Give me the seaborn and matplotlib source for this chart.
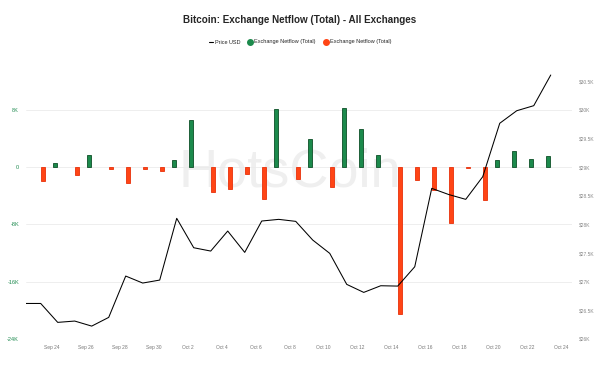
import seaborn as sns
import matplotlib.pyplot as plt
import matplotlib.dates as mdates
from matplotlib.lines import Line2D
import pandas as pd
import numpy as np

# daily values, Sep 23 .. Oct 23 2023 (stamped 08:30 like the source)
days = pd.date_range("2023-09-23 08:30", periods=31, freq="D")
price_before = 26620  # Sep 22, sits just outside the left edge
price = [26620, 26290, 26313, 26225, 26377, 27098, 26976, 27028, 28105, 27592,
         27534, 27883, 27511, 28058, 28087, 28052, 27726, 27494, 26953, 26813,
         26929, 26923, 27260, 28628, 28520, 28436, 28831, 29763, 29982, 30070, 30605]
netflow = [-1930, 500, -1117, 1675, -340, -2180, -280, -560, 935, 6617,
           -3490, -3015, -920, -4467, 8055, -1740, 3965, -2790, 8290, 5360,
           1630, -20450, -1860, -3160, -7770, -140, -4650, 935, 2190, 1075, 1590]
tick_days = pd.date_range("2023-09-24", "2023-10-24", freq="2D")

left_ticks = [-24000, -16000, -8000, 0, 8000]
left_labels = ["-24K", "-16K", "-8K", "0", "8K"]
right_ticks = np.arange(26000, 30501, 500)
right_labels = ["$26K", "$26.5K", "$27K", "$27.5K", "$28K", "$28.5K",
                "$29K", "$29.5K", "$30K", "$30.5K"]

GREEN, GREEN_EDGE = "#1c8a4c", "#0d4f27"
RED, RED_EDGE = "#ff4515", "#e8300a"

sns.set_style("white")
plt.rcParams["font.family"] = ["Liberation Sans", "DejaVu Sans"]

x = mdates.date2num(days)
df = pd.DataFrame({
    "x": np.concatenate([x, x]),
    "flow": [v if v > 0 else np.nan for v in netflow] + [v if v < 0 else np.nan for v in netflow],
    "kind": ["in"] * len(x) + ["out"] * len(x),
})

fig, ax = plt.subplots(figsize=(6, 3.78), dpi=100)
fig.subplots_adjust(left=26 / 600, right=572 / 600, bottom=39 / 378, top=1 - 66.7 / 378)

sns.barplot(data=df, x="x", y="flow", hue="kind", hue_order=["in", "out"],
            palette={"in": GREEN, "out": RED}, native_scale=True, saturation=1,
            width=0.6, gap=0.25, legend=False, ax=ax, linewidth=0.6)
for p in ax.patches:
    fc = p.get_facecolor()
    p.set_edgecolor(GREEN_EDGE if fc[1] > fc[0] else RED_EDGE)

ax.set_ylim(-24000, 14000)
ax.set_yticks(left_ticks)
ax.set_yticklabels(left_labels)
ax.yaxis.grid(True, color="#ebebeb", lw=0.6)
ax.set_axisbelow(True)
ax.tick_params(axis="y", length=0, pad=5, labelsize=4, labelcolor="#1e8a4f")
ax.set_xlim(x[0] - 0.865, x[0] + 31.25)
ax.set_xticks(mdates.date2num(tick_days))
ax.set_xticklabels([d.strftime("%b %-d") for d in tick_days])
ax.tick_params(axis="x", length=3, direction="in", color="#dddddd",
               labelsize=3.5, labelcolor="#777777", pad=4)
ax.set_xlabel("")
ax.set_ylabel("")
for s in ax.spines.values():
    s.set_visible(False)

ax.text(0.4835, 0.613, "HotsCoin", transform=ax.transAxes, ha="center", va="center",
        fontsize=39, color="#efefef", fontweight="light", zorder=0)

ax2 = ax.twinx()
line_x = np.concatenate([[x[0] - 1], x])
line_y = [price_before] + price
sns.lineplot(x=line_x, y=line_y, ax=ax2, color="black", lw=0.75)
ax2.set_ylim(26000, 30750)
ax2.set_yticks(right_ticks)
ax2.set_yticklabels(right_labels)
ax2.tick_params(axis="y", length=0, pad=5, labelsize=3.5, labelcolor="#888888")
ax2.set_ylabel("")
for s in ax2.spines.values():
    s.set_visible(False)

fig.text(0.5, 1 - 20 / 378, "Bitcoin: Exchange Netflow (Total) - All Exchanges",
         ha="center", va="center", fontsize=7.1, fontweight="bold")
handles = [Line2D([], [], color="black", lw=0.8),
           Line2D([], [], marker="o", ls="", color=GREEN, markersize=4),
           Line2D([], [], marker="o", ls="", color=RED, markersize=4)]
fig.legend(handles, ["Price USD", "Exchange Netflow (Total)", "Exchange Netflow (Total)"],
           loc="center", bbox_to_anchor=(0.5, 1 - 42 / 378), ncol=3, frameon=False,
           fontsize=4, handlelength=0.8, handletextpad=0.3, columnspacing=1.4)

fig.savefig("out.png", dpi=100)
